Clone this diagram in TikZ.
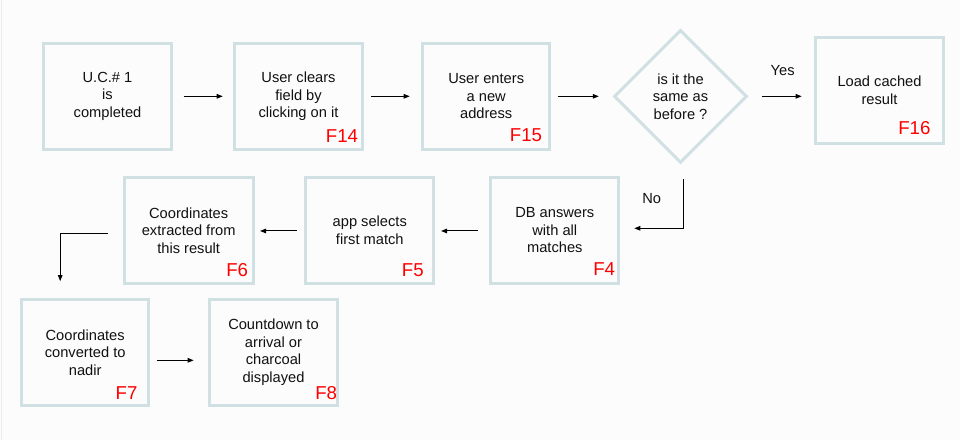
\documentclass[tikz,border=0pt]{standalone}
\usepackage{fontspec}
\setmainfont{Liberation Sans}
\usetikzlibrary{shapes.geometric,arrows.meta,calc}
\definecolor{boxc}{HTML}{D0E0E3}
\definecolor{bgc}{HTML}{FCFCFC}
\definecolor{framec}{HTML}{ECECEC}
\definecolor{txtc}{HTML}{111111}
\definecolor{fred}{HTML}{FF0000}
\begin{document}
\begin{tikzpicture}[x=0.75pt,y=-0.75pt,
  every node/.style={font=\fontsize{11}{13.1}\selectfont, text=txtc, align=center, inner sep=0pt},
  stepbox/.style={draw=boxc, line width=2.25pt, rectangle, minimum width=96pt, minimum height=79.5pt},
  decbox/.style={draw=boxc, line width=2.25pt, diamond, minimum width=99.75pt, minimum height=99.75pt},
  flabel/.style={font=\fontsize{14}{16}\selectfont, text=fred, anchor=base east},
  arr/.style={draw=black, line width=0.75pt, -{Triangle[length=4.5pt,width=3.4pt]}},
  lbl/.style={font=\fontsize{11}{13.1}\selectfont}
]
\useasboundingbox (0,0) rectangle (960,440);
\fill[bgc] (0,0) rectangle (960,440);
\draw[framec, line width=0.75pt] (1.5,0) -- (1.5,440);

% row 1
\node[stepbox] (b1) at (107.5,96.3) {U.C.\# 1\\is\\completed};
\node[stepbox] (f14) at (298.5,96.3) {User clears\\field by\\clicking on it};
\node[stepbox, minimum width=95.5pt] (f15) at (486.2,96.3) {User enters\\a new\\address};
\node[decbox] (dia) at (680.5,96.3) {is it the\\same as\\before ?};
\node[stepbox, minimum width=96.5pt] (f16) at (879.5,90.3) {Load cached\\result};

% row 2
\node[stepbox, minimum width=96.75pt] (f6) at (188.7,230.3) {Coordinates\\extracted from\\this result};
\node[stepbox] (f5) at (369.8,230.3) {app selects\\first match};
\node[stepbox] (f4) at (554.8,230.3) {DB answers\\with all\\matches};

% row 3
\node[stepbox, minimum width=95.5pt] (f7) at (85.2,352.3) {Coordinates\\converted to\\nadir};
\node[stepbox, minimum width=96.5pt] (f8) at (273.5,352.3) {Countdown to\\arrival or\\charcoal\\displayed};

% F labels
\node[flabel] (l14) at ([shift={(-5.7,-8.4)}]f14.south east) {F14};
\node[flabel] (l15) at ([shift={(-9,-9.3)}]f15.south east) {F15};
\node[flabel] (l16) at ([shift={(-14.6,-10.7)}]f16.south east) {F16};
\node[flabel] (l6) at ([shift={(-6.4,-8.3)}]f6.south east) {F6};
\node[flabel] (l5) at ([shift={(-11.3,-8.3)}]f5.south east) {F5};
\node[flabel] (l4) at ([shift={(-5,-9.3)}]f4.south east) {F4};
\node[flabel] (l7) at ([shift={(-12.6,-7.7)}]f7.south east) {F7};
\node[flabel] (l8) at ([shift={(-2,-7.7)}]f8.south east) {F8};

% connectors
\draw[arr, shorten <=8pt, shorten >=7.7pt] (b1.east) -- (f14.west);
\draw[arr, shorten <=5.25pt, shorten >=8.5pt] (f14.east) -- (f15.west);
\draw[arr, shorten <=5pt, shorten >=10.3pt] (f15.east) -- (dia.west);
\draw[arr, shorten <=10.3pt, shorten >=9pt] (dia.east) -- (dia.east -| f16.west);
\node[lbl] (yes) at (782.7,70.7) {Yes};

\coordinate (nostart) at ([shift={(3,15)}]dia.south);
\coordinate (noend) at ([shift={(14,-2)}]f4.east);
\draw[arr] (nostart) |- (noend);
\node[lbl] (no) at (651.7,198.3) {No};

\draw[arr, shorten <=8.7pt, shorten >=4.3pt] ([yshift=-0.5pt]f4.west) -- ([yshift=-0.5pt]f5.east);
\draw[arr, shorten <=5.7pt, shorten >=4pt] ([yshift=-0.5pt]f5.west) -- ([yshift=-0.5pt]f6.east);

\coordinate (elstart) at ([shift={(-14.4,3)}]f6.west);
\coordinate (elend) at ([shift={(-25,-16.7)}]f7.north);
\draw[arr] (elstart) -| (elend);

\coordinate (a7) at ([shift={(7,8)}]f7.east);
\coordinate (a8) at ([shift={(-14,8)}]f8.west);
\draw[arr] (a7) -- (a8);
\end{tikzpicture}
\end{document}
